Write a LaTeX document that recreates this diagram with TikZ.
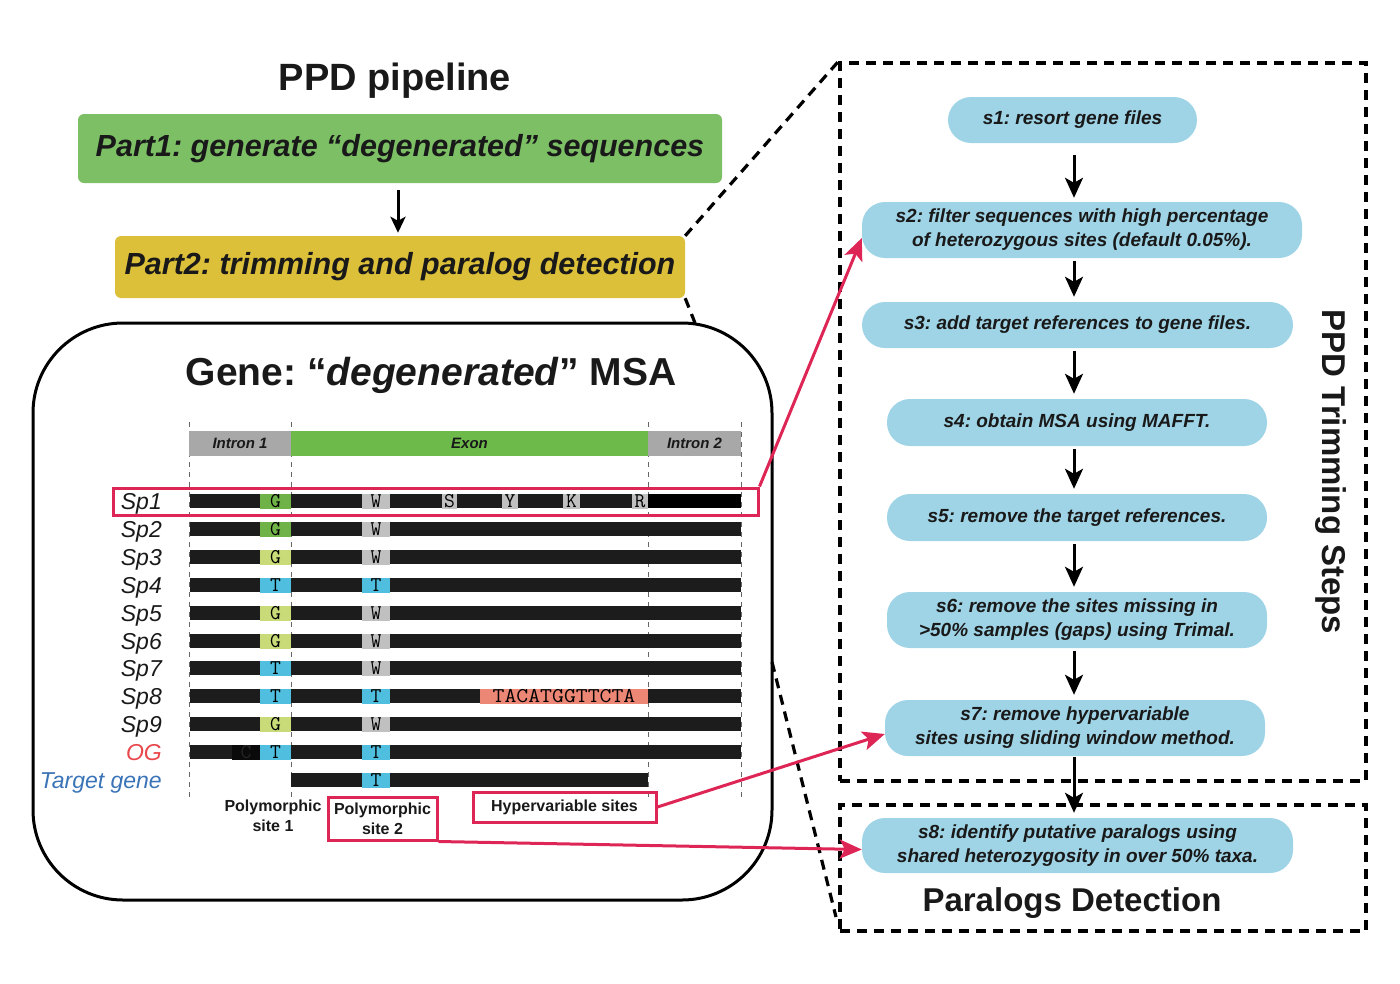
\documentclass[tikz,border=0pt]{standalone}
\usepackage{fontspec}
\setmainfont{Liberation Sans}
\usepackage{graphicx}
\usetikzlibrary{arrows.meta,calc}
\definecolor{partgreen}{RGB}{124,191,101}
\definecolor{partyellow}{RGB}{221,192,58}
\definecolor{stepblue}{RGB}{159,212,230}
\definecolor{exongreen}{RGB}{109,185,74}
\definecolor{introngray}{RGB}{168,168,168}
\definecolor{gdark}{RGB}{110,178,72}
\definecolor{glight}{RGB}{200,219,120}
\definecolor{tblue}{RGB}{80,190,222}
\definecolor{wgray}{RGB}{192,192,192}
\definecolor{salmon}{RGB}{236,135,118}
\definecolor{redline}{RGB}{222,38,86}
\definecolor{ogred}{RGB}{232,72,76}
\definecolor{tgblue}{RGB}{58,116,182}
\definecolor{barblack}{RGB}{28,28,28}
\definecolor{ogcell}{RGB}{10,10,10}
\definecolor{ogletter}{RGB}{38,38,38}
\definecolor{txtdark}{RGB}{25,25,25}
\frenchspacing
\begin{document}
\begin{tikzpicture}[x=1pt,y=-1pt,
  partbox/.style={rounded corners=6pt, inner sep=0pt, text=txtdark,
    font=\bfseries\itshape\fontsize{30.5}{36}\selectfont},
  steppill/.style={fill=stepblue, rounded corners=23pt, inner sep=0pt, align=center,
    text=txtdark, font=\bfseries\itshape\fontsize{19}{24}\selectfont},
  steparrow/.style={-{Stealth[length=20pt,width=18pt,inset=5pt]}, line width=3pt},
  redarrow/.style={-{Stealth[length=22pt,width=19pt,inset=5pt]}, line width=3pt, draw=redline},
  redbox/.style={draw=redline, line width=3pt, inner sep=0pt},
  frame/.style={draw, line width=3.2pt, dash pattern=on 10pt off 7pt, inner sep=0pt},
  conn/.style={line width=3.2pt, dash pattern=on 10pt off 7pt},
  guide/.style={draw=black!60, line width=1pt, dash pattern=on 5pt off 5pt},
  cell/.style={inner sep=0pt, minimum height=14pt, text height=14pt, text depth=1pt,
    font=\ttfamily\fontsize{21}{21}\selectfont, text=black},
  hdr/.style={inner sep=0pt, minimum height=25pt, font=\bfseries\itshape\fontsize{15}{18}\selectfont, text=txtdark},
  splabel/.style={anchor=base east, inner sep=0pt, font=\itshape\fontsize{23}{25}\selectfont, text=txtdark},
  bottomlab/.style={align=center, inner sep=0pt, font=\bfseries\fontsize{16}{20}\selectfont, text=txtdark}
]
\useasboundingbox (0,0) rectangle (1400,983);

% ---------- left: pipeline ----------
\node[font=\bfseries\fontsize{38}{44}\selectfont, text=txtdark] (title) at (395,81) {PPD pipeline};
\node[partbox, fill=partgreen, minimum width=644pt, minimum height=69pt] (part1) at (400,148.5)
  {Part1: generate “degenerated” sequences};
\node[partbox, fill=partyellow, minimum width=570pt, minimum height=62pt] (part2) at (400,267)
  {Part2: trimming and paralog detection};
\draw[-{Stealth[length=16pt,width=15pt,inset=4pt]}, line width=3pt, shorten <=7pt, shorten >=3pt]
  (part1.south -| 398,0) -- (part2.north -| 398,0);

% ---------- MSA frame ----------
\node[draw, line width=3pt, rounded corners=90pt, minimum width=739pt, minimum height=577pt, inner sep=0pt]
  (msa) at (402.5,611.5) {};
\node[font=\bfseries\fontsize{39}{44}\selectfont, text=txtdark] (msatitle) at (431,375)
  {Gene: “\textit{degenerated}” MSA};

% guides
\foreach \gx [count=\gi] in {189,291,648,741}
  \draw[guide] (\gx,422) -- (\gx,800);

% header
\node[hdr, fill=introngray, minimum width=102pt] (intron1) at (240,443.5) {Intron 1};
\node[hdr, fill=exongreen, minimum width=357pt] (exon) at (469.5,443.5) {Exon};
\node[hdr, fill=introngray, minimum width=93pt] (intron2) at (694.5,443.5) {Intron 2};

% bars
\foreach \ry in {501,529,557,585,613,641,668,696,724,752}
  \fill[barblack] (190,\ry-7) rectangle (741,\ry+7);
\fill[black] (648,494) rectangle (741,508);
\fill[barblack] (291,773) rectangle (648,787);

% polymorphic cells
\foreach \ry/\ca/\la/\cb/\lb [count=\ri] in {
  501/gdark/G/wgray/W, 529/gdark/G/wgray/W, 557/glight/G/wgray/W,
  585/tblue/T/tblue/T, 613/glight/G/wgray/W, 641/glight/G/wgray/W,
  668/tblue/T/wgray/W, 696/tblue/T/tblue/T, 724/glight/G/wgray/W,
  752/tblue/T/tblue/T}{
  \node[cell, fill=\ca, minimum width=31pt] (pa\ri) at (275.5,\ry) {\la};
  \node[cell, fill=\cb, minimum width=28pt] (pb\ri) at (376,\ry) {\lb};
}
\node[cell, fill=tblue, minimum width=28pt] (pbtg) at (376,780) {T};
\node[cell, fill=ogcell, minimum width=28pt, text=ogletter] (ogc) at (246,752) {C};

% Sp1 extra degenerate sites
\foreach \sx/\sl/\sw [count=\si] in {449.5/S/15, 510/Y/16, 571.5/K/17, 640/R/16}
  \node[cell, fill=wgray, minimum width=\sw pt] (dg\si) at (\sx,501) {\sl};

% hypervariable in Sp8
\node[cell, fill=salmon, minimum width=168pt] (hv) at (564,696) {\scalebox{1.1}[1]{TACATGGTTCTA}};

% row labels
\foreach \ry/\lab [count=\li] in {501/Sp1,529/Sp2,557/Sp3,585/Sp4,613/Sp5,641/Sp6,668/Sp7,696/Sp8,724/Sp9}
  \node[splabel] (lab\li) at (162,\ry+8) {\lab};
\node[splabel, text=ogred] (labog) at (162,760) {OG};
\node[splabel, text=tgblue] (labtg) at (162,788) {Target gene};

% bottom labels
\node[bottomlab] (site1) at (273,816) {Polymorphic\\site 1};
\node[bottomlab, redbox, minimum width=109pt, minimum height=43pt] (site2) at (382.5,818.5) {Polymorphic\\site 2};
\node[bottomlab, redbox, minimum width=183pt, minimum height=30pt] (hyp) at (564.5,807) {Hypervariable sites};
\node[redbox, minimum width=645pt, minimum height=27pt] (sp1box) at (435.5,501.5) {};

% ---------- right panel ----------
\node[frame, minimum width=526pt, minimum height=718pt] (trimframe) at (1103,422) {};
\node[frame, minimum width=526pt, minimum height=126pt] (paraframe) at (1103,868) {};
\node[rotate=-90, font=\bfseries\fontsize{33}{36}\selectfont, text=txtdark] (trimlab) at (1331,472) {PPD Trimming Steps};
\node[font=\bfseries\fontsize{33}{36}\selectfont, text=txtdark] (paralab) at (1072,903) {Paralogs Detection};

\node[steppill, minimum width=249pt, minimum height=46pt] (s1) at (1072.5,120) {s1: resort gene files};
\node[steppill, minimum width=440pt, minimum height=56pt] (s2) at (1082,230) {s2: filter sequences with high percentage\\of heterozygous sites (default 0.05\%).};
\node[steppill, minimum width=431pt, minimum height=46pt] (s3) at (1077.5,325) {s3: add target references to gene files.};
\node[steppill, minimum width=380pt, minimum height=47pt] (s4) at (1077,422.5) {s4: obtain MSA using MAFFT.};
\node[steppill, minimum width=380pt, minimum height=47pt] (s5) at (1077,517.5) {s5: remove the target references.};
\node[steppill, minimum width=380pt, minimum height=56pt] (s6) at (1077,620) {s6: remove the sites missing in\\>50\% samples (gaps) using Trimal.};
\node[steppill, minimum width=380pt, minimum height=56pt] (s7) at (1075,728) {s7: remove hypervariable\\sites using sliding window method.};
\node[steppill, minimum width=431pt, minimum height=55pt] (s8) at (1077.5,845.5) {s8: identify putative paralogs using\\shared heterozygosity in over 50\% taxa.};

\coordinate (ax) at (1074,0);
\draw[steparrow, shorten <=12pt, shorten >=4pt] (s1.south -| ax) -- (s2.north -| ax);
\foreach \a/\b in {s2/s3, s3/s4, s4/s5, s5/s6, s6/s7}
  \draw[steparrow, shorten <=3pt, shorten >=5pt] (\a.south -| ax) -- (\b.north -| ax);
\draw[steparrow, shorten <=1pt, shorten >=5pt] (s7.south -| ax) -- (s8.north -| ax);

% ---------- connectors ----------
\coordinate (msatop) at (695,323);
\coordinate (msaright) at (772,662);
\coordinate (parabl) at (836,917);
\draw[conn] (part2.north east) -- (trimframe.north west);
\draw[conn] (part2.south east) -- (msatop);
\draw[conn] (msaright) -- (parabl);

\draw[redarrow] (sp1box.north east) -- ([yshift=-8pt]s2.west);
\draw[redarrow] (hyp.east) -- ([yshift=-6pt]s7.west);
\draw[redarrow] (site2.south east) -- ([yshift=-4pt]s8.west);
\end{tikzpicture}
\end{document}
